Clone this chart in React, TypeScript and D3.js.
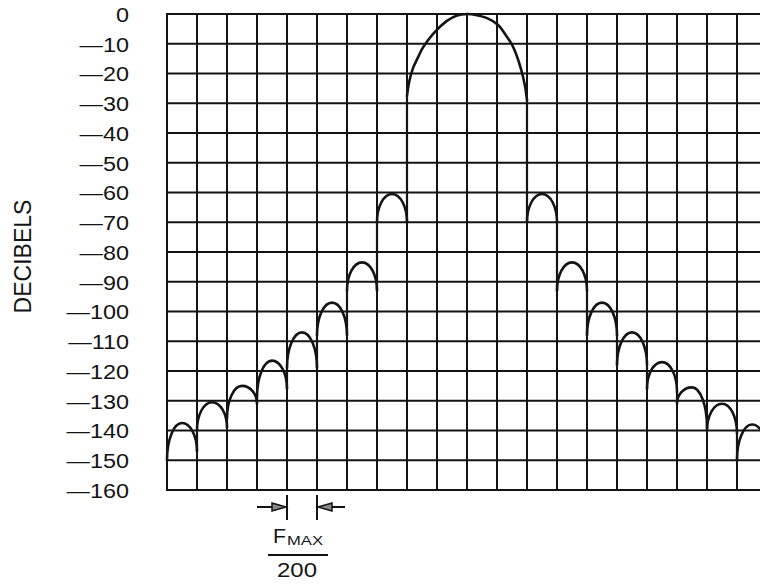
import React from 'react';
import * as d3 from 'd3';

// frequency in bins of FMAX/200, 0 = carrier
const X_DOMAIN = [-10, 10];
const GRID_X = d3.range(-10, 11, 1);
const Y_TICK_VALUES = [0, -10, -20, -30, -40, -50, -60, -70, -80, -90, -100, -110, -120, -130, -140, -150, -160];
const Y_TICK_LABELS = ['0', '—10', '—20', '—30', '—40', '—50', '—60', '—70', '—80', '—90', '—100', '—110', '—120', '—130', '—140', '—150', '—160'];

// main lobe (bin, dB)
const MAIN_X = [-2, -1.93, -1.8, -1.63, -1.5, -1.3, -1.03, -0.67, -0.33, 0, 0.33, 0.67, 1.03, 1.3, 1.5, 1.63, 1.8, 1.93, 2];
const MAIN_DB = [-27.5, -22.9, -18.2, -14.5, -11.8, -8.8, -5.6, -2.3, -0.5, 0, -0.4, -1.4, -3.6, -7.2, -10.3, -13.3, -18.5, -24, -29];

// side lobes: start bin (lobe spans one bin), peak level, level at left and right null edge
const LOBE_START = [-10, -9, -8, -7, -6, -5, -4, -3, 2, 3, 4, 5, 6, 7, 8, 9];
const LOBE_PEAK = [-137.5, -130.5, -125, -116.5, -107, -97, -83.5, -60.5, -60.5, -83.5, -97, -107, -117, -125.5, -131, -138];
const LOBE_LEFT = [-150, -140, -136, -129, -119, -108, -93, -70, -70, -93, -108, -118, -126, -131, -140, -150];
const LOBE_RIGHT = [-147, -139, -131, -126, -119, -108, -93, -70, -70, -93, -108, -118, -127, -139, -141, -148];

const W = 760;
const H = 585;
const INK = '#141414';

export default function App() {
  const x = d3.scaleLinear().domain(X_DOMAIN).range([167, 767]);
  const y = d3.scaleLinear().domain([0, -160]).range([14, 490]);

  const mainLine = d3
    .line<number>()
    .x((d) => x(d))
    .y((_, i) => y(MAIN_DB[i]))
    .curve(d3.curveCatmullRom.alpha(0.5));

  const lobes = LOBE_START.map((s, i) => {
    const x0 = x(s);
    const x1 = x(s + 1);
    const xm = (x0 + x1) / 2;
    const rx = (x1 - x0) / 2;
    const yp = y(LOBE_PEAK[i]);
    const yl = y(LOBE_LEFT[i]);
    const yr = y(LOBE_RIGHT[i]);
    return `M${x0},${yl} A${rx},${yl - yp} 0 0 1 ${xm},${yp} A${rx},${yr - yp} 0 0 1 ${x1},${yr}`;
  });

  // vertical drops at the nulls, joining neighbouring lobes
  const drops: [number, number, number][] = [];
  LOBE_START.forEach((s, i) => {
    const j = LOBE_START.indexOf(s + 1);
    if (j >= 0) drops.push([s + 1, LOBE_RIGHT[i], LOBE_LEFT[j]]);
  });
  drops.push([-2, LOBE_RIGHT[LOBE_START.indexOf(-3)], MAIN_DB[0]]);
  drops.push([2, MAIN_DB[MAIN_DB.length - 1], LOBE_LEFT[LOBE_START.indexOf(2)]]);

  const fx0 = x(-6);
  const fx1 = x(-5);
  const arrowY = 507;

  return (
    <svg
      width={W}
      height={H}
      viewBox={`0 0 ${W} ${H}`}
      style={{ position: 'fixed', left: 0, top: 0, background: '#fff' }}
      fontFamily="'Liberation Sans', Arial, sans-serif"
    >
      <rect width={W} height={H} fill="#fff" />

      {/* grid */}
      <g stroke={INK} strokeWidth={2}>
        {Y_TICK_VALUES.map((v) => (
          <line key={'h' + v} x1={x(-10) - 1} x2={W} y1={y(v)} y2={y(v)} />
        ))}
        {GRID_X.map((v) => (
          <line key={'v' + v} x1={x(v)} x2={x(v)} y1={y(0) - 1} y2={y(-160) + 1} />
        ))}
      </g>

      {/* y tick labels */}
      <g fill={INK} fontSize={19.5}>
        {Y_TICK_VALUES.map((v, i) => (
          <text
            key={'t' + v}
            transform={`translate(129,${y(v) + 1.5}) scale(1.2,1)`}
            textAnchor="end"
            dominantBaseline="central"
          >
            {Y_TICK_LABELS[i]}
          </text>
        ))}
      </g>

      <text
        transform="translate(31,256.5) rotate(-90)"
        textAnchor="middle"
        fontSize={23}
        fill={INK}
      >
        DECIBELS
      </text>

      {/* spectrum */}
      <g fill="none" stroke={INK} strokeWidth={2.6} strokeLinecap="round">
        <path d={mainLine(MAIN_X) || ''} />
        {lobes.map((d, i) => (
          <path key={'l' + i} d={d} />
        ))}
        {drops.map(([b, a, c], i) => (
          <line key={'d' + i} x1={x(b)} x2={x(b)} y1={y(a)} y2={y(c)} strokeWidth={2.2} />
        ))}
      </g>

      {/* bin width annotation */}
      <g stroke={INK} strokeWidth={2}>
        <line x1={fx0} x2={fx0} y1={495} y2={520} />
        <line x1={fx1} x2={fx1} y1={495} y2={520} />
        <line x1={fx0 - 30} x2={fx0 - 12} y1={arrowY} y2={arrowY} />
        <line x1={fx1 + 12} x2={fx1 + 28} y1={arrowY} y2={arrowY} />
        <polygon
          points={`${fx0 - 1},${arrowY} ${fx0 - 15},${arrowY - 4} ${fx0 - 15},${arrowY + 4}`}
          fill="#888"
          strokeWidth={1.5}
        />
        <polygon
          points={`${fx1 + 1},${arrowY} ${fx1 + 15},${arrowY - 4} ${fx1 + 15},${arrowY + 4}`}
          fill="#888"
          strokeWidth={1.5}
        />
        <line x1={268} x2={328} y1={555} y2={555} />
      </g>
      <g fill={INK}>
        <text x={273} y={543} fontSize={21} textLength={13} lengthAdjust="spacingAndGlyphs">
          F
        </text>
        <text x={287} y={545} fontSize={12} textLength={36} lengthAdjust="spacingAndGlyphs">
          MAX
        </text>
        <text x={277} y={577} fontSize={21} textLength={40} lengthAdjust="spacingAndGlyphs">
          200
        </text>
      </g>
    </svg>
  );
}
